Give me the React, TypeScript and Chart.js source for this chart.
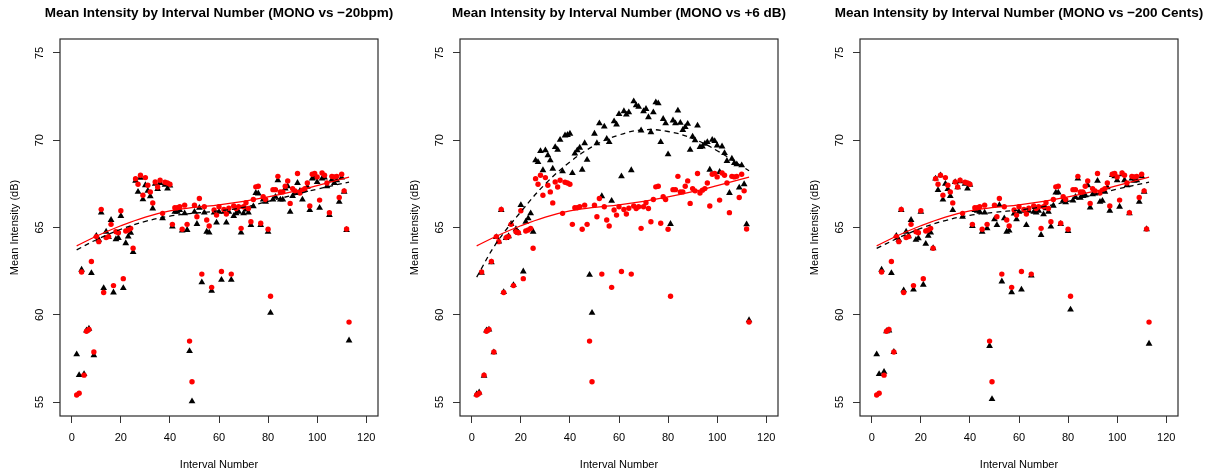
import React, { useEffect, useRef } from "react";
import { Chart, registerables } from "chart.js";

Chart.register(...registerables);

const FONT = "'Liberation Sans', Arial, Helvetica, sans-serif";

const intervals = [
  2, 3, 4, 5, 6, 7, 8, 9, 10, 11, 12, 13, 14, 15, 16, 17, 18, 19, 20, 21,
  22, 23, 24, 25, 26, 27, 28, 29, 30, 31, 32, 33, 34, 35, 36, 37, 38, 39, 40, 41,
  42, 43, 44, 45, 46, 47, 48, 49, 50, 51, 52, 53, 54, 55, 56, 57, 58, 59, 60, 61,
  62, 63, 64, 65, 66, 67, 68, 69, 70, 71, 72, 73, 74, 75, 76, 77, 78, 79, 80, 81,
  82, 83, 84, 85, 86, 87, 88, 89, 90, 91, 92, 93, 94, 95, 96, 97, 98, 99, 100, 101,
  102, 103, 104, 105, 106, 107, 108, 109, 110, 111, 112, 113,
];

const mono = [
  55.4, 55.5, 62.45, 56.54, 59.06, 59.16, 63.05, 57.87, 64.48, 64.19, 66.04, 61.28, 64.42, 64.48, 65.18, 61.67, 64.76, 64.7, 65.96, 62.07,
  64.8, 64.86, 64.95, 63.81, 67.8, 67.48, 67.99, 66.85, 67.86, 67.42, 67.04, 66.41, 67.61, 67.32, 67.71, 65.81, 67.59, 67.55, 67.48, 65.18,
  66.13, 66.13, 66.19, 64.9, 66.28, 65.18, 58.49, 56.16, 66.28, 65.62, 66.66, 62.33, 66.19, 65.43, 65.09, 61.57, 66.0, 65.71, 66.19, 62.48,
  66.03, 65.77, 66.1, 62.33, 66.23, 66.09, 66.19, 64.95, 66.19, 66.42, 66.09, 65.33, 66.6, 67.33, 67.36, 65.24, 66.76, 66.6, 64.9, 61.06,
  67.17, 67.17, 67.93, 67.04, 67.04, 67.36, 67.67, 66.38, 67.23, 67.1, 68.09, 66.98, 67.14, 67.23, 67.55, 66.23, 68.05, 68.09, 67.9, 66.57,
  68.12, 67.99, 67.55, 65.85, 67.93, 67.9, 67.93, 66.72, 68.05, 67.1, 64.91, 59.58,
];

const bpm20 = [
  57.73, 56.54, 62.58, 56.6, 59.1, 59.2, 62.39, 57.68, 64.52, 64.3, 65.85, 61.53, 64.76, 64.45, 65.43, 61.28, 64.33, 64.4, 65.66, 61.53,
  64.1, 64.48, 64.7, 63.59, 67.67, 67.04, 67.85, 66.61, 67.42, 67.1, 66.79, 66.09, 67.5, 67.2, 67.55, 65.52, 67.45, 67.23, 67.4, 65.05,
  65.9, 65.9, 66.0, 64.82, 65.81, 64.86, 57.92, 55.04, 65.9, 65.2, 66.13, 61.86, 65.85, 64.76, 64.71, 61.38, 65.85, 65.28, 65.9, 62.0,
  65.9, 65.28, 65.9, 62.0, 65.66, 65.81, 65.9, 64.71, 65.81, 66.03, 65.85, 65.14, 66.21, 66.98, 66.95, 65.14, 66.6, 66.47, 64.76, 60.11,
  66.6, 66.76, 67.71, 66.6, 66.6, 67.23, 67.36, 65.9, 66.8, 66.98, 67.55, 67.1, 66.6, 67.14, 67.33, 66.0, 67.8, 67.86, 67.6, 66.13,
  67.8, 67.86, 67.36, 65.71, 67.74, 67.55, 67.71, 66.47, 67.86, 67.04, 64.86, 58.53,
];

const db6 = [
  55.45, 55.55, 62.4, 56.5, 59.1, 59.15, 63.0, 57.85, 64.45, 64.2, 66.0, 61.3, 64.4, 64.5, 65.2, 61.7, 64.9, 64.7, 66.28, 62.48,
  65.33, 65.52, 65.81, 64.76, 68.85, 68.75, 69.38, 68.28, 69.42, 69.13, 68.85, 68.37, 69.61, 69.45, 70.02, 68.22, 70.27, 70.3, 70.37, 68.12,
  69.23, 69.42, 69.57, 68.31, 69.83, 68.88, 62.29, 60.11, 70.37, 69.83, 70.97, 66.79, 70.78, 70.08, 69.89, 66.53, 71.08, 70.9, 71.5, 67.93,
  71.66, 71.47, 71.6, 68.28, 72.23, 72.0, 71.92, 70.56, 71.66, 71.79, 71.32, 70.46, 71.6, 72.17, 72.11, 69.89, 71.22, 70.97, 69.19, 65.2,
  71.13, 70.97, 71.7, 71.0, 70.59, 70.75, 70.94, 69.45, 70.21, 69.99, 70.84, 69.61, 69.64, 69.8, 69.89, 68.31, 70.02, 69.95, 69.7, 68.18,
  69.64, 69.26, 68.81, 66.98, 68.94, 68.69, 68.62, 67.29, 68.56, 67.48, 65.18, 59.69,
];

const cents200 = [
  57.73, 56.6, 62.58, 56.73, 59.06, 59.1, 62.39, 57.87, 64.52, 64.29, 66.0, 61.4, 64.76, 64.5, 65.43, 61.44, 64.29, 64.38, 65.9, 61.72,
  64.06, 64.52, 64.71, 63.81, 67.8, 67.14, 67.99, 66.6, 67.5, 67.2, 66.8, 66.0, 67.6, 67.3, 67.65, 65.62, 67.5, 67.23, 67.45, 65.09,
  66.0, 65.96, 65.9, 64.76, 65.85, 64.95, 58.21, 55.17, 65.47, 65.14, 66.28, 61.91, 65.52, 64.76, 64.82, 61.29, 65.8, 65.47, 65.9, 61.44,
  65.95, 65.14, 65.95, 62.24, 65.9, 65.85, 65.95, 64.57, 65.75, 66.1, 65.9, 65.05, 66.25, 67.0, 67.0, 65.2, 66.55, 66.45, 64.8, 60.3,
  66.55, 66.75, 67.8, 66.7, 66.8, 66.85, 67.42, 66.15, 66.9, 66.95, 67.67, 66.47, 66.53, 67.04, 67.3, 65.96, 68.0, 67.93, 67.7, 66.19,
  68.05, 67.71, 67.42, 65.81, 67.8, 67.67, 67.71, 66.47, 67.93, 67.04, 64.9, 58.34,
];

// fitted trend curves
const fitX = [2, 10, 20, 30, 40, 50, 60, 70, 80, 90, 100, 113];
const fitMono = [63.95, 64.5, 65.1, 65.6, 65.95, 66.15, 66.3, 66.5, 66.75, 67.05, 67.4, 67.88];
const fitBpm20 = [63.72, 64.3, 64.9, 65.35, 65.65, 65.82, 65.95, 66.15, 66.5, 66.85, 67.2, 67.6];
const fitDb6 = [62.16, 64.1, 65.9, 67.5, 68.75, 69.7, 70.3, 70.6, 70.5, 70.1, 69.4, 68.25];
const fitCents200 = [63.8, 64.35, 64.95, 65.4, 65.7, 65.87, 66.0, 66.2, 66.5, 66.85, 67.2, 67.6];

const xTicks = [0, 20, 40, 60, 80, 100, 120];
const yTicks = [55, 60, 65, 70, 75];

const titles = [
  "Mean Intensity by Interval Number (MONO vs \u221220bpm)",
  "Mean Intensity by Interval Number (MONO vs +6 dB)",
  "Mean Intensity by Interval Number (MONO vs \u2212200 Cents)",
];

const boxPlugin = {
  id: "rbox",
  afterDraw(chart: any) {
    const { ctx, chartArea } = chart;
    const { left, top, right, bottom } = chartArea;
    ctx.save();
    ctx.strokeStyle = "#2a2a2a";
    ctx.lineWidth = 1.2;
    ctx.strokeRect(left, top, right - left, bottom - top);
    ctx.restore();
  },
};

// main title centred over the plot region (as R does), drawn without width squeezing
const mainTitlePlugin = {
  id: "rmain",
  afterDraw(chart: any, _args: any, opts: any) {
    const { ctx, chartArea } = chart;
    ctx.save();
    ctx.fillStyle = "#000";
    ctx.font = `bold 13.5px ${FONT}`;
    ctx.textAlign = "center";
    ctx.textBaseline = "middle";
    ctx.fillText(opts.text, (chartArea.left + chartArea.right) / 2, 13);
    ctx.restore();
  },
};

function makeConfig(title: string, cond: number[], fitCond: number[], rightPad: number): any {
  return {
    type: "scatter",
    data: {
      datasets: [
        {
          type: "line",
          data: fitX.map((x, i) => ({ x, y: fitMono[i] })),
          borderColor: "#ff0000",
          borderWidth: 1.3,
          pointRadius: 0,
          tension: 0.4,
          fill: false,
        },
        {
          type: "line",
          data: fitX.map((x, i) => ({ x, y: fitCond[i] })),
          borderColor: "#000000",
          borderWidth: 1.3,
          borderDash: [5, 4],
          pointRadius: 0,
          tension: 0.4,
          fill: false,
        },
        {
          data: intervals.map((x, i) => ({ x, y: mono[i] })),
          pointStyle: "circle",
          pointRadius: 2.7,
          backgroundColor: "#ff0000",
          borderWidth: 0,
        },
        {
          data: intervals.map((x, i) => ({ x, y: cond[i] })),
          pointStyle: "triangle",
          pointRadius: 3.9,
          backgroundColor: "#000000",
          borderWidth: 0,
        },
      ],
    },
    options: {
      responsive: false,
      animation: false,
      layout: { padding: { left: 0, right: rightPad, top: 39, bottom: 0 } },
      plugins: {
        legend: { display: false },
        tooltip: { enabled: false },
        title: { display: false },
        rmain: { text: title },
      },
      scales: {
        x: {
          type: "linear",
          min: -4.8,
          max: 124.8,
          afterBuildTicks: (s: any) => {
            s.ticks = xTicks.map((v) => ({ value: v }));
          },
          afterFit: (s: any) => {
            s.height = 56;
          },
          ticks: {
            color: "#000",
            font: { family: FONT, size: 11 },
            padding: 8,
            maxRotation: 0,
            autoSkip: false,
          },
          grid: { drawOnChartArea: false, drawTicks: true, tickLength: 7, color: "#333", lineWidth: 1 },
          border: { display: false },
          title: {
            display: true,
            text: "Interval Number",
            color: "#000",
            font: { family: FONT, size: 11 },
            padding: { top: 0, bottom: 0.5 },
          },
        },
        y: {
          type: "linear",
          min: 54.2,
          max: 75.8,
          afterBuildTicks: (s: any) => {
            s.ticks = yTicks.map((v) => ({ value: v }));
          },
          afterFit: (s: any) => {
            s.width = 60;
          },
          ticks: {
            color: "#000",
            font: { family: FONT, size: 11 },
            padding: 7,
            minRotation: 90,
            maxRotation: 90,
            crossAlign: "center",
            autoSkip: false,
          },
          grid: { drawOnChartArea: false, drawTicks: true, tickLength: 7, color: "#333", lineWidth: 1 },
          border: { display: false },
          title: {
            display: true,
            text: "Mean Intensity (dB)",
            color: "#000",
            font: { family: FONT, size: 11 },
            padding: { top: 8, bottom: 0 },
          },
        },
      },
    },
    plugins: [boxPlugin, mainTitlePlugin],
  };
}

function Panel({ left, width, title, cond, fit }: { left: number; width: number; title: string; cond: number[]; fit: number[] }) {
  const ref = useRef<HTMLCanvasElement | null>(null);
  useEffect(() => {
    if (!ref.current) return;
    const chart = new Chart(ref.current, makeConfig(title, cond, fit, width - 378));
    return () => chart.destroy();
  }, [title, cond, fit, width]);
  return (
    <canvas
      ref={ref}
      width={width}
      height={472}
      style={{ position: "absolute", left, top: 0, width, height: 472, display: "block" }}
    />
  );
}

export default function App() {
  useEffect(() => {
    document.body.style.margin = "0";
    document.body.style.background = "#ffffff";
  }, []);
  return (
    <div style={{ position: "relative", width: 1215, height: 472, background: "#ffffff", overflow: "hidden" }}>
      <Panel left={0} width={400} title={titles[0]} cond={bpm20} fit={fitBpm20} />
      <Panel left={400} width={400} title={titles[1]} cond={db6} fit={fitDb6} />
      <Panel left={800} width={415} title={titles[2]} cond={cents200} fit={fitCents200} />
    </div>
  );
}
